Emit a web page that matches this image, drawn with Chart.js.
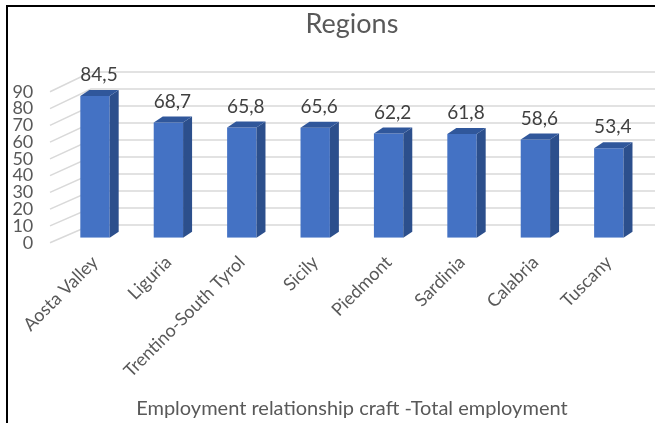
<!DOCTYPE html>
<html>
<head>
<meta charset="utf-8">
<script src="https://cdn.jsdelivr.net/npm/chart.js@4.4.1/dist/chart.umd.min.js"></script>
<style>
html,body{margin:0;padding:0;background:#fff;overflow:hidden;}
#wrap{position:relative;width:655px;height:423px;}
#frame{position:absolute;left:6px;top:5px;width:800px;height:600px;border-left:2px solid #000;border-top:2px solid #000;pointer-events:none;}
canvas{display:block;}
</style>
</head>
<body>
<div id="wrap">
<canvas id="c" width="655" height="423"></canvas>
<div id="frame"></div>
</div>
<script>
const categories = ['Aosta Valley','Liguria','Trentino-South Tyrol','Sicily','Piedmont','Sardinia','Calabria','Tuscany'];
const values = [84.5, 68.7, 65.8, 65.6, 62.2, 61.8, 58.6, 53.4];
const valueLabels = ['84,5','68,7','65,8','65,6','62,2','61,8','58,6','53,4'];
const yTickValues = [0,10,20,30,40,50,60,70,80,90];
const chartTitle = 'Regions';
const xAxisTitle = 'Employment relationship craft -Total employment';

const FONT = 'Lato';
const DEPTH_X = 9, DEPTH_Y = -6;

const gridPlugin = {
  id: 'grid3d',
  beforeDatasetsDraw(chart) {
    const ctx = chart.ctx;
    const ys = chart.scales.y;
    const y0 = ys.getPixelForValue(0);
    ctx.save();
    ctx.strokeStyle = '#d9d9d9';
    ctx.lineWidth = 1.5;
    yTickValues.forEach(v => {
      const yf = ys.getPixelForValue(v);
      const yb = 225 + (yf - y0) * (1.7 / 1.677) + (y0 - 237.7);
      ctx.beginPath();
      ctx.moveTo(50, yf + 5);
      ctx.lineTo(91, yb);
      ctx.lineTo(chart.width, yb);
      ctx.stroke();
    });
    ctx.restore();
  }
};

const bar3dPlugin = {
  id: 'bar3d',
  afterDatasetsDraw(chart) {
    const ctx = chart.ctx;
    const meta = chart.getDatasetMeta(0);
    ctx.save();
    meta.data.forEach((bar, i) => {
      const left = bar.x - bar.width / 2;
      const right = bar.x + bar.width / 2;
      const top = bar.y;
      const bottom = bar.base;
      ctx.fillStyle = '#2c4f8c';
      ctx.beginPath();
      ctx.moveTo(right, bottom);
      ctx.lineTo(right + DEPTH_X, bottom + DEPTH_Y);
      ctx.lineTo(right + DEPTH_X, top + DEPTH_Y);
      ctx.lineTo(right, top);
      ctx.closePath();
      ctx.fill();
      ctx.fillStyle = '#30579b';
      ctx.beginPath();
      ctx.moveTo(left, top);
      ctx.lineTo(left + DEPTH_X, top + DEPTH_Y);
      ctx.lineTo(right + DEPTH_X, top + DEPTH_Y);
      ctx.lineTo(right, top);
      ctx.closePath();
      ctx.fill();
      ctx.fillStyle = '#404040';
      ctx.font = '19px ' + FONT;
      ctx.textAlign = 'center';
      ctx.textBaseline = 'middle';
      ctx.fillText(valueLabels[i], bar.x + 4, top - 21);
    });
    ctx.restore();
  }
};

new Chart(document.getElementById('c'), {
  type: 'bar',
  data: {
    labels: categories,
    datasets: [{
      data: values,
      backgroundColor: '#4472c4',
      borderWidth: 0,
      barPercentage: 0.40,
      categoryPercentage: 1.0
    }]
  },
  options: {
    responsive: false,
    devicePixelRatio: 1,
    animation: false,
    layout: { padding: { left: 0, right: 9.5, top: 0, bottom: 0 } },
    plugins: {
      legend: { display: false },
      tooltip: { enabled: false },
      title: {
        display: true,
        fullSize: false,
        text: chartTitle,
        color: '#595959',
        font: { family: FONT, size: 27, weight: 'normal' },
        padding: { top: 8, bottom: 46.4 }
      }
    },
    scales: {
      x: {
        grid: { display: false },
        border: { display: false },
        ticks: {
          color: '#595959',
          font: { family: FONT, size: 18 },
          maxRotation: 45,
          minRotation: 45,
          padding: 6,
          autoSkip: false
        },
        title: {
          display: true,
          text: xAxisTitle,
          color: '#595959',
          font: { family: FONT, size: 20 },
          padding: { top: 4, bottom: 2 }
        },
        afterFit(s) { s.height = 185.3; }
      },
      y: {
        min: 0,
        max: 90,
        grid: { display: false, drawTicks: false },
        border: { display: false },
        ticks: {
          stepSize: 10,
          autoSkip: false,
          color: '#595959',
          font: { family: FONT, size: 18 },
          padding: 25,
          labelOffset: 5
        },
        afterFit(s) { s.width = 58.3; }
      }
    }
  },
  plugins: [gridPlugin, bar3dPlugin]
});
</script>
</body>
</html>
